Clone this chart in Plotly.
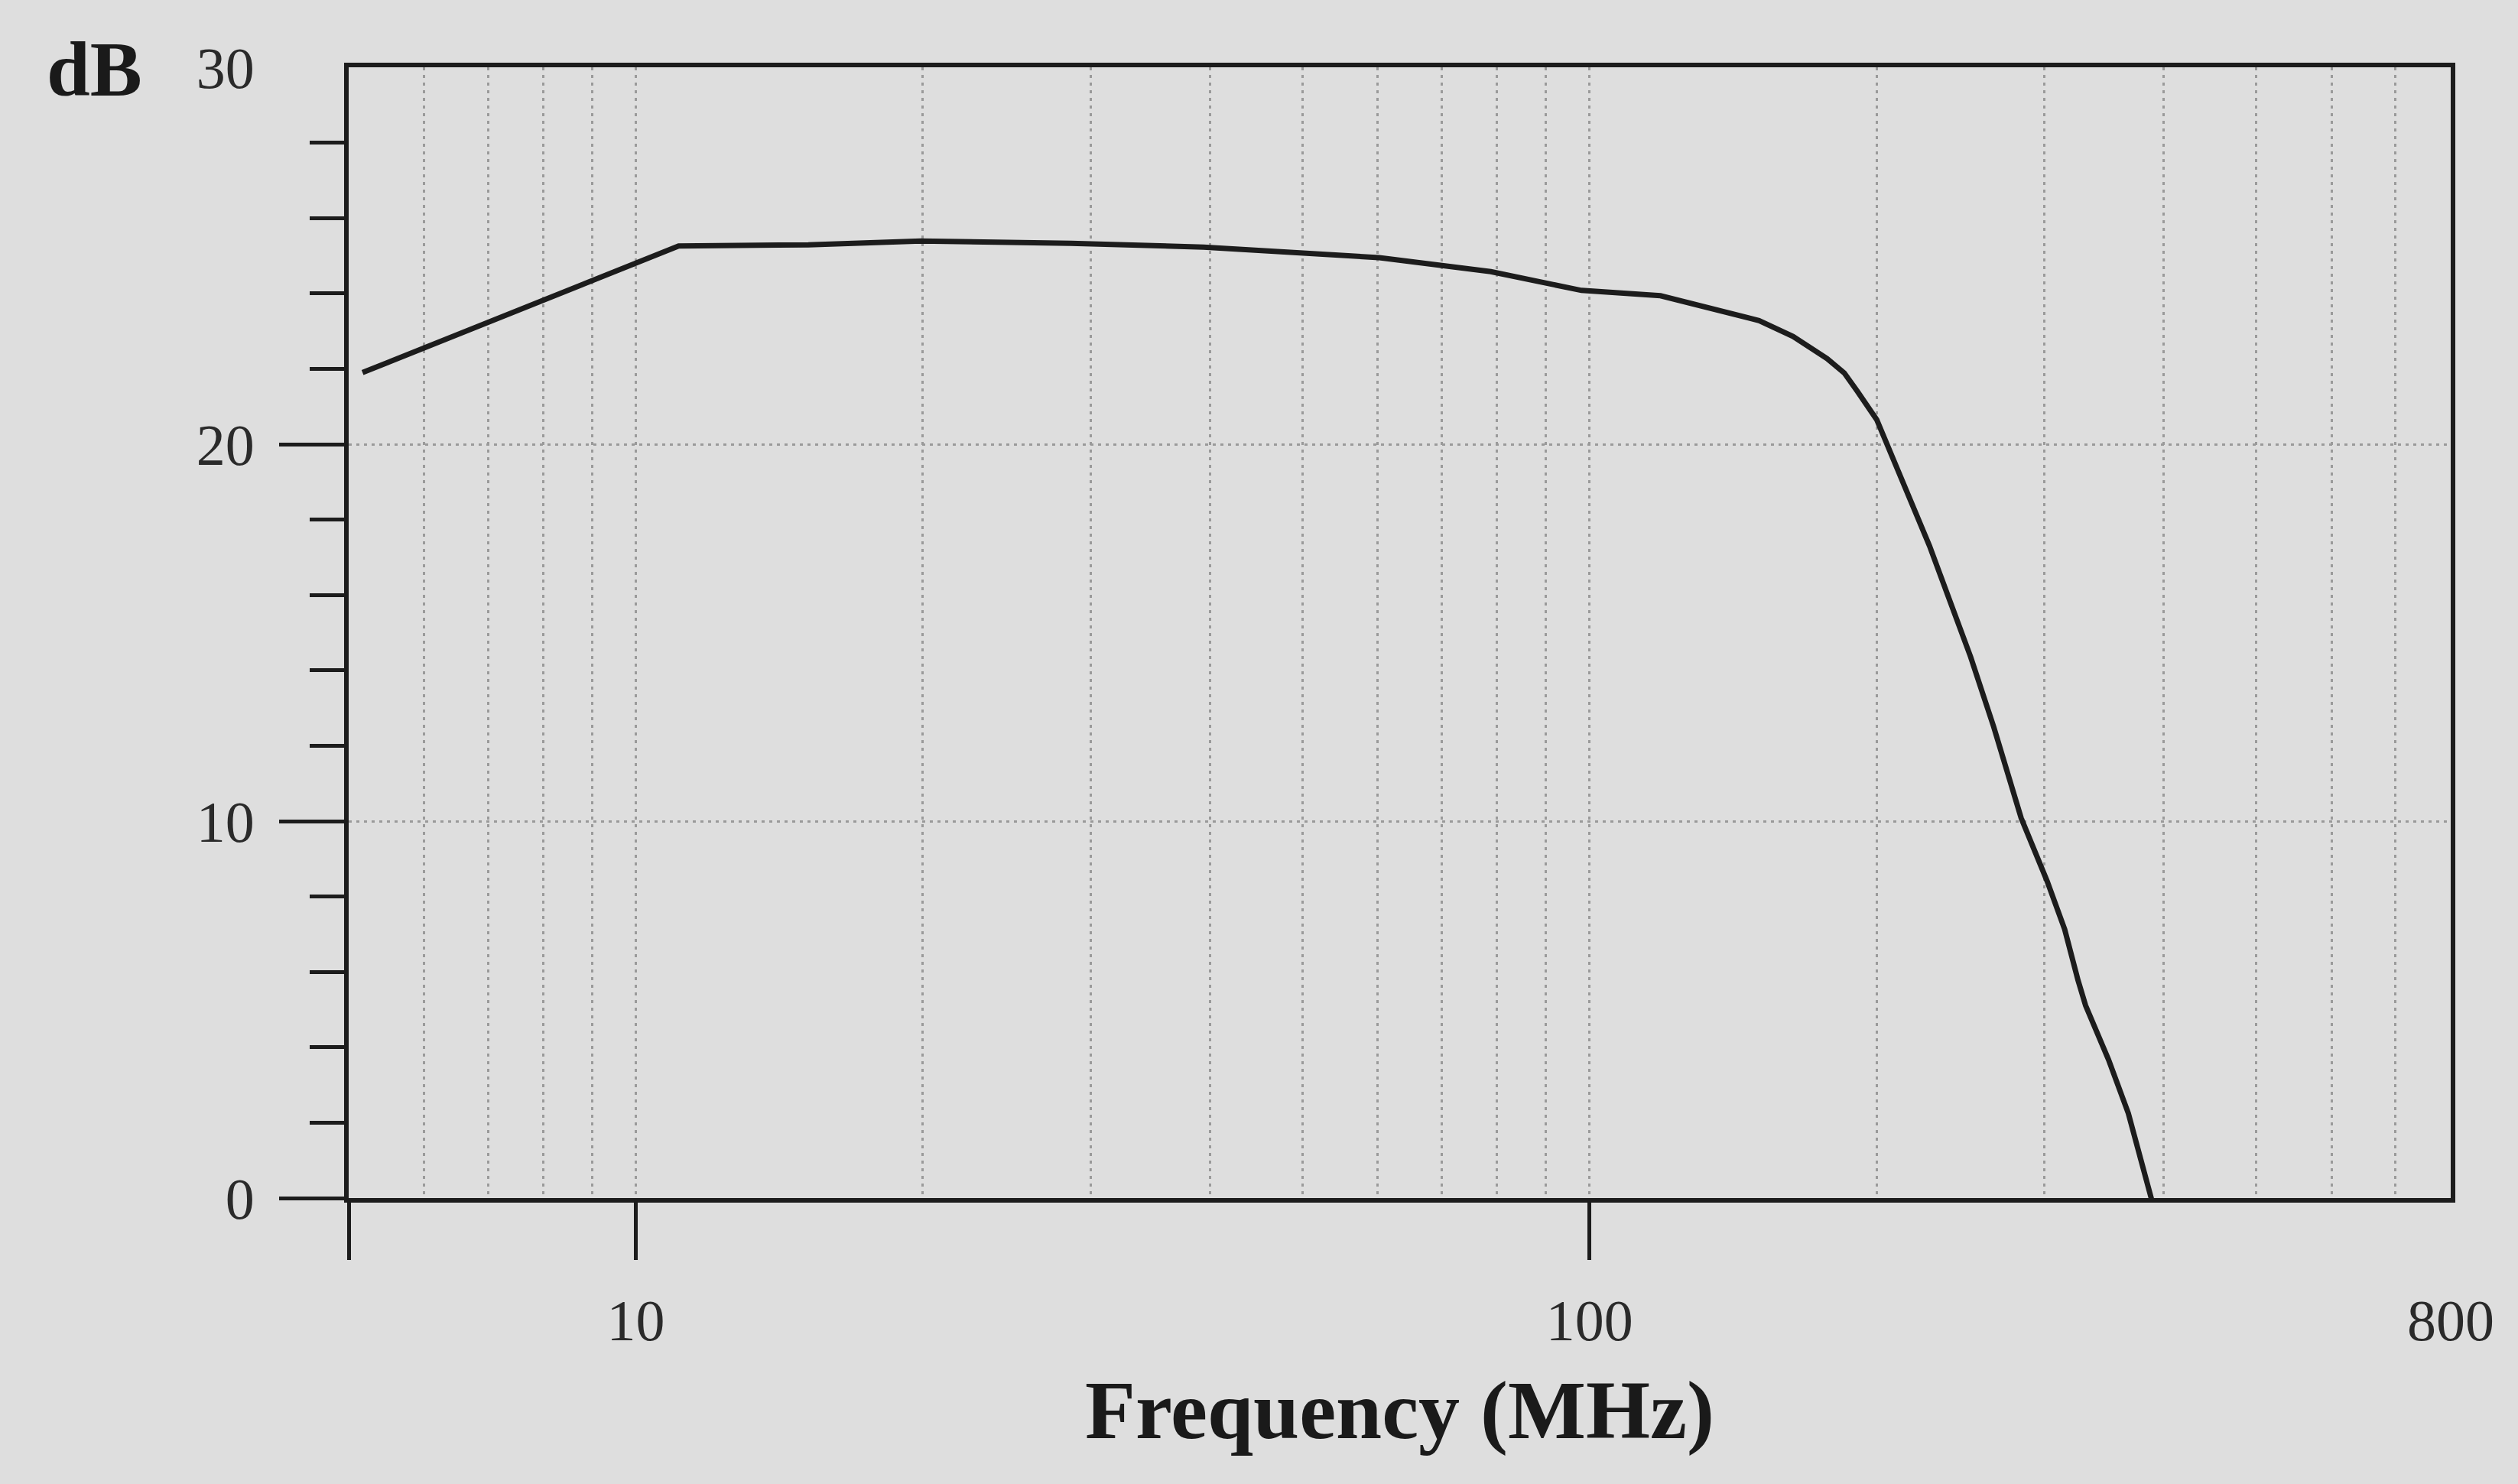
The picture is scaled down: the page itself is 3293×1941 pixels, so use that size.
import math
import plotly.graph_objects as go

# ---- data ----
freq_mhz = [5.17, 11.09, 15.17, 19.9, 28.6, 39.4, 60.2, 78.8, 98.1, 118.7,
            150.6, 163.5, 177.5, 185.0, 191.0, 200.1, 227.3, 251.0, 265.4,
            283.6, 302.0, 315.0, 325.3, 331.3, 350.2, 367.3, 388.2, 390.5]
gain_db = [21.9, 25.26, 25.29, 25.39, 25.33, 25.23, 24.95, 24.58, 24.08, 23.94,
           23.28, 22.86, 22.27, 21.89, 21.4, 20.65, 17.3, 14.36, 12.5,
           10.08, 8.4, 7.13, 5.78, 5.11, 3.67, 2.25, 0.0, -0.3]

x_tick_vals = [10, 100, 800]
x_tick_text = ["10", "100", "800"]
x_tick_marks = [5, 10, 100]
x_grid_vals = [6, 7, 8, 9, 20, 30, 40, 50, 60, 70, 80, 90,
               200, 300, 400, 500, 600, 700]
x_range = [5, 800]

y_tick_vals = [0, 10, 20, 30]
y_tick_text = ["0", "10", "20", "30"]
y_tick_marks = [0, 10, 20]
y_minor_marks = [2, 4, 6, 8, 12, 14, 16, 18, 22, 24, 26, 28]
y_range = [0, 30]

x_title = "Frequency (MHz)"
y_unit = "dB"

# ---- styling ----
BG = "#dedede"
INK = "#1c1c1c"
GRID = "#9a9a9a"
FONT = "Liberation Serif"
GRID_DASH = "4px,6px"

fig = go.Figure()
fig.add_trace(go.Scatter(
    x=freq_mhz, y=gain_db, mode="lines",
    line=dict(color=INK, width=7),
    showlegend=False, hoverinfo="skip",
))
# invisible copy so the overlaid tick-mark axes get drawn
fig.add_trace(go.Scatter(
    x=freq_mhz, y=gain_db, mode="lines", xaxis="x2", yaxis="y2",
    line=dict(color="rgba(0,0,0,0)", width=0),
    showlegend=False, hoverinfo="skip",
))

log_range = [math.log10(x_range[0]), math.log10(x_range[1])]

fig.update_layout(
    width=3293, height=1941,
    margin=dict(l=456, r=88, t=88, b=374),
    paper_bgcolor=BG, plot_bgcolor=BG,
    font=dict(family=FONT, color="#2a2a2a"),
    xaxis=dict(
        type="log", range=log_range,
        tickvals=x_tick_vals, ticktext=x_tick_text,
        ticks="", showgrid=True, gridcolor=GRID, gridwidth=3, griddash=GRID_DASH,
        minor=dict(tickvals=x_grid_vals, showgrid=True, gridcolor=GRID,
                   gridwidth=3, griddash=GRID_DASH, ticks=""),
        showline=True, linecolor=INK, linewidth=6, mirror=True,
        zeroline=False,
        tickfont=dict(family=FONT, size=76, color="#2a2a2a"),
        ticklabelstandoff=89,
        title=dict(text=x_title, standoff=39,
                   font=dict(family=FONT, size=108, color="#1a1a1a", weight="bold")),
    ),
    xaxis2=dict(
        type="log", range=log_range, overlaying="x", anchor="y", side="bottom",
        tickvals=x_tick_marks, ticks="outside", ticklen=80, tickwidth=5,
        tickcolor=INK, showticklabels=False, showgrid=False, showline=False,
        zeroline=False,
    ),
    yaxis=dict(
        range=y_range,
        tickvals=y_tick_vals, ticktext=y_tick_text,
        ticks="", showgrid=True, gridcolor=GRID, gridwidth=3, griddash=GRID_DASH,
        minor=dict(tickvals=y_minor_marks, ticks="outside", ticklen=45,
                   tickwidth=5, tickcolor=INK, showgrid=False),
        showline=True, linecolor=INK, linewidth=6, mirror=True,
        zeroline=False,
        tickfont=dict(family=FONT, size=76, color="#2a2a2a"),
        ticklabelstandoff=102,
    ),
    yaxis2=dict(
        range=y_range, overlaying="y", anchor="x", side="left",
        tickvals=y_tick_marks, ticks="outside", ticklen=90, tickwidth=5,
        tickcolor=INK, showticklabels=False, showgrid=False, showline=False,
        zeroline=False,
    ),
    annotations=[dict(
        text="<b>" + y_unit + "</b>", xref="paper", yref="paper",
        x=-0.1444, y=0.998, xanchor="left", yanchor="middle",
        showarrow=False, font=dict(family=FONT, size=102, color="#1a1a1a"),
    )],
)

fig.write_html("out.html")
